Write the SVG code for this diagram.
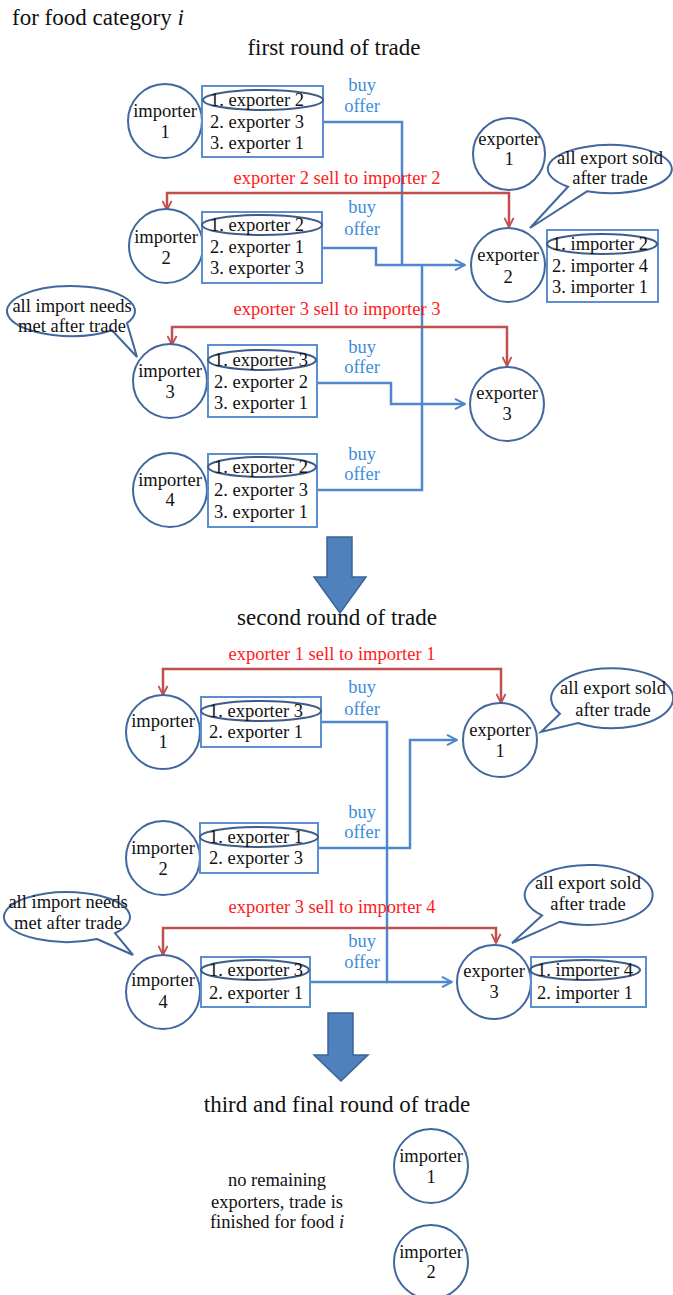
<svg xmlns="http://www.w3.org/2000/svg" width="673" height="1295" viewBox="0 0 673 1295" font-family="'Liberation Serif', 'DejaVu Serif', 'Times New Roman', serif">
<style>
text{font-family:'Liberation Serif','DejaVu Serif','Times New Roman',serif;font-size:18.5px;fill:#111}
.title{font-size:23px}
.mid{text-anchor:middle}
.node{fill:#fff;stroke:#41679e;stroke-width:2}
.box{fill:#fff;stroke:#5b8fd2;stroke-width:2}
.sel{fill:none;stroke:#3e5c86;stroke-width:2}
.bub{fill:#fff;stroke:#41679e;stroke-width:2}
.blue{fill:none;stroke:#4f87cf;stroke-width:2.5}
.red{fill:none;stroke:#c0504d;stroke-width:2.5}
.rt{fill:#ff1a1a;text-anchor:middle}
.bt{fill:#3c8ddb;text-anchor:middle}
.big{fill:#4f81bd;stroke:#3b6496;stroke-width:1.5}
</style>
<defs>
<marker id="ab" viewBox="0 0 12 12" refX="11" refY="6" markerWidth="12" markerHeight="12" markerUnits="userSpaceOnUse" orient="auto"><path d="M1,0.8 L11,6 L1,11.2" fill="none" stroke="#4f87cf" stroke-width="2"/></marker>
<marker id="ar" viewBox="0 0 12 12" refX="11" refY="6" markerWidth="11" markerHeight="11" markerUnits="userSpaceOnUse" orient="auto"><path d="M1,1 L11,6 L1,11" fill="none" stroke="#c0504d" stroke-width="2"/></marker>
</defs>
<rect width="673" height="1295" fill="#fff"/>

<text class="title" x="12" y="25">for food category <tspan font-style="italic">i</tspan></text>
<text class="title mid" x="334" y="55">first round of trade</text>
<text class="title mid" x="337" y="625">second round of trade</text>
<text class="title mid" x="337" y="1112">third and final round of trade</text>

<g id="connectors">
<path class="blue" d="M323,122 H402 V265"/>
<path class="blue" d="M317,490 H422 V265"/>
<path class="blue" d="M322,248 H376 V265 H465" marker-end="url(#ab)"/>
<path class="blue" d="M317,383 H391 V404 H465" marker-end="url(#ab)"/>
<path class="red" d="M300,193 H167 V210" marker-end="url(#ar)"/>
<path class="red" d="M300,193 H509 V227" marker-end="url(#ar)"/>
<path class="red" d="M300,327 H172 V345" marker-end="url(#ar)"/>
<path class="red" d="M300,327 H507 V366" marker-end="url(#ar)"/>
<path class="blue" d="M321,722 H387 V982 H452" marker-end="url(#ab)"/>
<path class="blue" d="M310,982 H387"/>
<path class="blue" d="M318,848 H410 V740 H457" marker-end="url(#ab)"/>
<path class="red" d="M300,669 H163 V695" marker-end="url(#ar)"/>
<path class="red" d="M300,669 H501 V703" marker-end="url(#ar)"/>
<path class="red" d="M300,928 H163 V955" marker-end="url(#ar)"/>
<path class="red" d="M300,928 H496 V943" marker-end="url(#ar)"/>
<text class="rt" x="337" y="184">exporter 2 sell to importer 2</text>
<text class="rt" x="337" y="315">exporter 3 sell to importer 3</text>
<text class="rt" x="332" y="660">exporter 1 sell to importer 1</text>
<text class="rt" x="332" y="913">exporter 3 sell to importer 4</text>
<text class="bt" x="362" y="91">buy</text><text class="bt" x="362" y="112">offer</text>
<text class="bt" x="362" y="213">buy</text><text class="bt" x="362" y="235">offer</text>
<text class="bt" x="362" y="353">buy</text><text class="bt" x="362" y="373">offer</text>
<text class="bt" x="362" y="460">buy</text><text class="bt" x="362" y="480">offer</text>
<text class="bt" x="362" y="693">buy</text><text class="bt" x="362" y="715">offer</text>
<text class="bt" x="362" y="818">buy</text><text class="bt" x="362" y="838">offer</text>
<text class="bt" x="362" y="947">buy</text><text class="bt" x="362" y="968">offer</text>
</g>

<g id="round1-importer1">
<circle class="node" cx="165" cy="121" r="37"/>
<text class="mid" x="165" y="117">importer</text><text class="mid" x="165" y="138">1</text>
<rect class="box" x="202" y="86" width="121" height="71"/>
<ellipse class="sel" cx="263" cy="100" rx="60" ry="10"/>
<text x="210" y="106">1. exporter 2</text><text x="210" y="128">2. exporter 3</text><text x="210" y="149">3. exporter 1</text>
</g>
<g id="round1-importer2">
<circle class="node" cx="166" cy="246" r="37"/>
<text class="mid" x="166" y="243">importer</text><text class="mid" x="166" y="264">2</text>
<rect class="box" x="202" y="212" width="120" height="71"/>
<ellipse class="sel" cx="262" cy="225" rx="60" ry="10"/>
<text x="210" y="231">1. exporter 2</text><text x="210" y="253">2. exporter 1</text><text x="210" y="274">3. exporter 3</text>
</g>
<g id="round1-importer3">
<circle class="node" cx="170" cy="381" r="37"/>
<text class="mid" x="170" y="377">importer</text><text class="mid" x="170" y="398">3</text>
<rect class="box" x="208" y="345" width="109" height="72"/>
<ellipse class="sel" cx="262" cy="360" rx="54" ry="10"/>
<text x="214" y="366">1. exporter 3</text><text x="214" y="388">2. exporter 2</text><text x="214" y="409">3. exporter 1</text>
</g>
<g id="round1-importer4">
<circle class="node" cx="170" cy="490" r="37"/>
<text class="mid" x="170" y="486">importer</text><text class="mid" x="170" y="506">4</text>
<rect class="box" x="208" y="454" width="109" height="73"/>
<ellipse class="sel" cx="262" cy="467" rx="54" ry="10"/>
<text x="214" y="473">1. exporter 2</text><text x="214" y="496">2. exporter 3</text><text x="214" y="518">3. exporter 1</text>
</g>
<g id="round1-exporter1">
<circle class="node" cx="509" cy="154" r="36"/>
<text class="mid" x="509" y="145">exporter</text><text class="mid" x="509" y="165">1</text>
</g>
<g id="round1-exporter2">
<circle class="node" cx="508" cy="265" r="37"/>
<text class="mid" x="508" y="261">exporter</text><text class="mid" x="508" y="283">2</text>
<rect class="box" x="547" y="230" width="111" height="72"/>
<ellipse class="sel" cx="602" cy="244" rx="55" ry="10"/>
<text x="552" y="250">1. importer 2</text><text x="552" y="272">2. importer 4</text><text x="552" y="293">3. importer 1</text>
</g>
<g id="round1-exporter3">
<circle class="node" cx="507" cy="404" r="37"/>
<text class="mid" x="507" y="399">exporter</text><text class="mid" x="507" y="420">3</text>
</g>
<g id="round1-bubble-export">
<path class="bub" d="M568,186.7 L530,228 L587,191.3 A62 24 0 1 0 568,186.7 Z"/>
<text class="mid" x="610" y="164">all export sold</text><text class="mid" x="610" y="184">after trade</text>
</g>
<g id="round1-bubble-import">
<path class="bub" d="M112,330.2 L137,357 L127,323.1 A64 25 0 1 0 112,330.2 Z"/>
<text class="mid" x="72" y="312">all import needs</text><text class="mid" x="72" y="332">met after trade</text>
</g>

<g id="arrow1"><polygon class="big" points="327,537 352,537 352,577 366,577 340,613 314,577 327,577"/></g>

<g id="round2-importer1">
<circle class="node" cx="163" cy="732" r="37"/>
<text class="mid" x="163" y="727">importer</text><text class="mid" x="163" y="748">1</text>
<rect class="box" x="201" y="697" width="120" height="50"/>
<ellipse class="sel" cx="261" cy="711" rx="60" ry="10"/>
<text x="209" y="717">1. exporter 3</text><text x="209" y="738">2. exporter 1</text>
</g>
<g id="round2-importer2">
<circle class="node" cx="163" cy="858" r="37"/>
<text class="mid" x="163" y="854">importer</text><text class="mid" x="163" y="875">2</text>
<rect class="box" x="200" y="823" width="118" height="50"/>
<ellipse class="sel" cx="259" cy="837" rx="59" ry="10"/>
<text x="209" y="843">1. exporter 1</text><text x="209" y="864">2. exporter 3</text>
</g>
<g id="round2-importer4">
<circle class="node" cx="163" cy="992" r="37"/>
<text class="mid" x="163" y="986">importer</text><text class="mid" x="163" y="1008">4</text>
<rect class="box" x="201" y="957" width="109" height="50"/>
<ellipse class="sel" cx="255" cy="970" rx="54" ry="10"/>
<text x="209" y="976">1. exporter 3</text><text x="209" y="999">2. exporter 1</text>
</g>
<g id="round2-exporter1">
<circle class="node" cx="500" cy="740" r="37"/>
<text class="mid" x="500" y="736">exporter</text><text class="mid" x="500" y="757">1</text>
</g>
<g id="round2-exporter3">
<circle class="node" cx="494" cy="982" r="37"/>
<text class="mid" x="494" y="977">exporter</text><text class="mid" x="494" y="998">3</text>
<rect class="box" x="531" y="957" width="115" height="50"/>
<ellipse class="sel" cx="585" cy="970" rx="55" ry="10"/>
<text x="537" y="976">1. importer 4</text><text x="537" y="999">2. importer 1</text>
</g>
<g id="round2-bubble-export1">
<path class="bub" d="M560,713.7 L541,732 L578,723 A61 30 0 1 0 560,713.7 Z"/>
<text class="mid" x="613" y="694">all export sold</text><text class="mid" x="613" y="716">after trade</text>
</g>
<g id="round2-bubble-export3">
<path class="bub" d="M542,915.4 L512,943 L560,921.7 A64 30 0 1 0 542,915.4 Z"/>
<text class="mid" x="588" y="889">all export sold</text><text class="mid" x="588" y="910">after trade</text>
</g>
<g id="round2-bubble-import">
<path class="bub" d="M97,939 L133,955 L115,933.2 A63 25 0 1 0 97,939 Z"/>
<text class="mid" x="68" y="908">all import needs</text><text class="mid" x="68" y="929">met after trade</text>
</g>

<g id="arrow2"><polygon class="big" points="328,1013 353,1013 353,1055 368,1055 341,1081 314,1055 328,1055"/></g>

<g id="round3-note">
<text class="mid" x="277" y="1186">no remaining</text>
<text class="mid" x="277" y="1208">exporters, trade is</text>
<text class="mid" x="277" y="1228">finished for food <tspan font-style="italic">i</tspan></text>
</g>
<g id="round3-importer1">
<circle class="node" cx="431" cy="1166" r="37"/>
<text class="mid" x="431" y="1162">importer</text><text class="mid" x="431" y="1183">1</text>
</g>
<g id="round3-importer2">
<circle class="node" cx="431" cy="1262" r="37"/>
<text class="mid" x="431" y="1258">importer</text><text class="mid" x="431" y="1278">2</text>
</g>
</svg>
